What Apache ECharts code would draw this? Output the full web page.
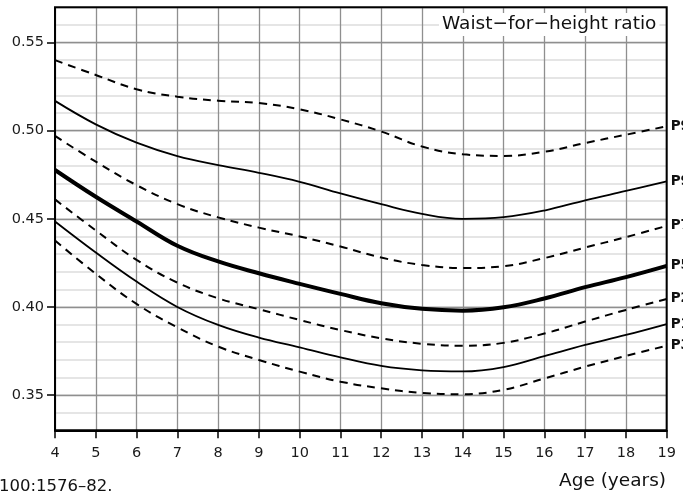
<!DOCTYPE html>
<html>
<head>
<meta charset="utf-8">
<script src="https://cdn.jsdelivr.net/npm/echarts@6/dist/echarts.min.js"></script>
<style>
html, body { margin: 0; padding: 0; background: #fff; }
#chart { width: 683px; height: 495px; }
</style>
</head>
<body>
<div id="chart"></div>
<script>
// age in years, one point per year
var ages = [4, 5, 6, 7, 8, 9, 10, 11, 12, 13, 14, 15, 16, 17, 18, 19];

// waist-for-height ratio percentiles
var p97 = [0.540, 0.5316, 0.5235, 0.5193, 0.5170, 0.5157, 0.5121, 0.5064, 0.4995, 0.4910, 0.4866, 0.4857, 0.4880, 0.4930, 0.4977, 0.5025];
var p90 = [0.5169, 0.5036, 0.4932, 0.4856, 0.4805, 0.4761, 0.4710, 0.4644, 0.4583, 0.4528, 0.4500, 0.4509, 0.4547, 0.4605, 0.4658, 0.4712];
var p75 = [0.4970, 0.4824, 0.4691, 0.4583, 0.4508, 0.4450, 0.4400, 0.4343, 0.4280, 0.4238, 0.4221, 0.4231, 0.4277, 0.4337, 0.4396, 0.4460];
var p50 = [0.4777, 0.4625, 0.4485, 0.4347, 0.4258, 0.4191, 0.4131, 0.4074, 0.4021, 0.3989, 0.3979, 0.3998, 0.4048, 0.4112, 0.4169, 0.4233];
var p25 = [0.4610, 0.4434, 0.4267, 0.4138, 0.4049, 0.3987, 0.3926, 0.3869, 0.3822, 0.3791, 0.3780, 0.3796, 0.3849, 0.3917, 0.3983, 0.4045];
var p10 = [0.4485, 0.4309, 0.4144, 0.4000, 0.3898, 0.3826, 0.3771, 0.3714, 0.3665, 0.3640, 0.3634, 0.3659, 0.3721, 0.3784, 0.3841, 0.3903];
var p3  = [0.4377, 0.4188, 0.4017, 0.3884, 0.3775, 0.3699, 0.3633, 0.3576, 0.3538, 0.3512, 0.3505, 0.3530, 0.3594, 0.3661, 0.3722, 0.3780];

var yTicks = [0.35, 0.40, 0.45, 0.50, 0.55];

var FONT = '"DejaVu Sans", "Liberation Sans", sans-serif';

function pairs(vals) {
    return ages.map(function (a, i) { return [a, vals[i]]; });
}

function curve(name, vals, width, dashed) {
    return {
        name: name,
        type: 'line',
        smooth: 0.4,
        symbol: 'none',
        data: pairs(vals),
        lineStyle: { color: '#000', width: width, type: dashed ? [8, 6] : 'solid' },
        endLabel: {
            show: true,
            formatter: '{a}',
            distance: 4,
            color: '#111',
            fontFamily: FONT,
            fontWeight: 'bold',
            fontSize: 13.5
        },
        emphasis: { disabled: true }
    };
}

var chart = echarts.init(document.getElementById('chart'));

var option = {
    animation: false,
    backgroundColor: '#fff',
    title: {
        text: 'Waist\u2212for\u2212height ratio',
        left: 439,
        top: 13,
        padding: [2, 3, 2, 3],
        backgroundColor: '#fff',
        textStyle: { fontFamily: FONT, fontWeight: 'normal', fontSize: 18.5, color: '#111' }
    },
    grid: {
        left: 55, right: 16.3, top: 7.3, bottom: 64.7,
        show: true, z: 5,
        borderColor: '#000', borderWidth: 2,
        backgroundColor: 'transparent'
    },
    xAxis: {
        type: 'value',
        min: 4, max: 19, interval: 1,
        axisLine: { show: true, onZero: false, lineStyle: { color: '#000', width: 2 } },
        axisTick: { show: true, length: 8, lineStyle: { color: '#000', width: 1.5 } },
        axisLabel: { margin: 15, fontFamily: FONT, fontSize: 14.5, color: '#1a1a1a' },
        splitLine: { show: true, lineStyle: { color: '#8f8f8f', width: 1.3 } }
    },
    yAxis: [
        {
            // minor grid every 0.01
            type: 'value',
            min: 0.33, max: 0.57, interval: 0.01,
            position: 'left',
            axisLine: { show: false },
            axisTick: { show: false },
            axisLabel: { show: false },
            splitLine: { show: true, lineStyle: { color: '#dcdcdc', width: 1.5 } }
        },
        {
            type: 'value',
            min: 0.33, max: 0.57,
            position: 'left',
            axisLine: { show: false },
            axisTick: { show: true, customValues: yTicks, length: 8, lineStyle: { color: '#000', width: 1.5 } },
            axisLabel: {
                customValues: yTicks,
                margin: 11,
                fontFamily: FONT, fontSize: 14.5, color: '#1a1a1a',
                formatter: function (v) { return v.toFixed(2); }
            },
            splitLine: { show: true, lineStyle: { color: '#8f8f8f', width: 1.3 } }
        }
    ],
    graphic: [
        {
            type: 'text', left: -1, top: 478,
            style: { text: '100:1576\u201382.', font: '16.5px ' + FONT, fill: '#111' }
        },
        {
            type: 'text', right: 17, top: 472,
            style: { text: 'Age (years)', font: '18.5px ' + FONT, fill: '#111' }
        }
    ],
    series: [
        curve('P97', p97, 2, true),
        curve('P90', p90, 1.8, false),
        curve('P75', p75, 2, true),
        curve('P50', p50, 4, false),
        curve('P25', p25, 2, true),
        curve('P10', p10, 1.8, false),
        curve('P3', p3, 2, true)
    ]
};

chart.setOption(option);
</script>
</body>
</html>
